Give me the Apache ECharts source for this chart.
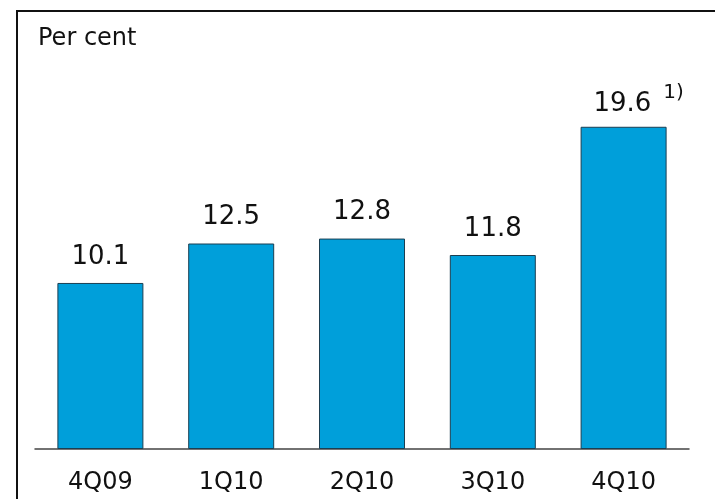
<!DOCTYPE html>
<html>
<head>
<meta charset="utf-8">
<script src="https://cdn.jsdelivr.net/npm/echarts@6/dist/echarts.min.js"></script>
<style>
  html, body { margin: 0; padding: 0; background: #fff; }
  #chart { width: 715px; height: 499px; }
</style>
</head>
<body>
<div id="chart"></div>
<script>
// Quarterly values, per cent
const quarters = ['4Q09', '1Q10', '2Q10', '3Q10', '4Q10'];
const values = [10.1, 12.5, 12.8, 11.8, 19.6];
// Footnote marker attached to the last quarter's label
const footnotes = ['', '', '', '', '1)'];

const FONT = 'DejaVu Sans';
const TEXT = '#111111';

const chart = echarts.init(document.getElementById('chart'), null, { renderer: 'canvas' });

const seriesData = values.map((v, i) => {
  const item = { value: v };
  if (footnotes[i]) {
    item.label = {
      formatter: '{v|{c}}{s|' + footnotes[i] + '}',
      offset: [15, 3]
    };
  }
  return item;
});

chart.setOption({
  animation: false,
  backgroundColor: '#ffffff',
  title: {
    text: 'Per cent',
    left: 33,
    top: 22,
    textStyle: { fontFamily: FONT, fontSize: 24, fontWeight: 'normal', color: TEXT }
  },
  graphic: [{
    type: 'rect',
    shape: { x: 17, y: 11, width: 720, height: 520 },
    style: { fill: 'none', stroke: '#111', lineWidth: 2 },
    silent: true
  }],
  grid: { left: 35, right: 26, top: 38, bottom: 50, containLabel: false },
  xAxis: {
    type: 'category',
    data: quarters,
    axisLine: { lineStyle: { color: '#444', width: 1.5 } },
    axisTick: { show: false },
    axisLabel: { fontFamily: FONT, fontSize: 24, color: TEXT, margin: 22 }
  },
  yAxis: {
    type: 'value',
    min: 0,
    max: 25,
    show: false,
    splitLine: { show: false }
  },
  series: [{
    type: 'bar',
    data: seriesData,
    barWidth: 86,
    itemStyle: { color: '#009fda', borderColor: '#1b3f52', borderWidth: 1 },
    label: {
      show: true,
      position: 'top',
      distance: 13,
      fontFamily: FONT,
      fontSize: 26,
      color: TEXT,
      rich: {
        v: { fontFamily: FONT, fontSize: 26, color: TEXT, lineHeight: 34, verticalAlign: 'bottom' },
        s: { fontFamily: FONT, fontSize: 20, color: TEXT, lineHeight: 18, verticalAlign: 'top',
             padding: [0, 0, 0, 12] }
      }
    }
  }]
});
</script>
</body>
</html>
